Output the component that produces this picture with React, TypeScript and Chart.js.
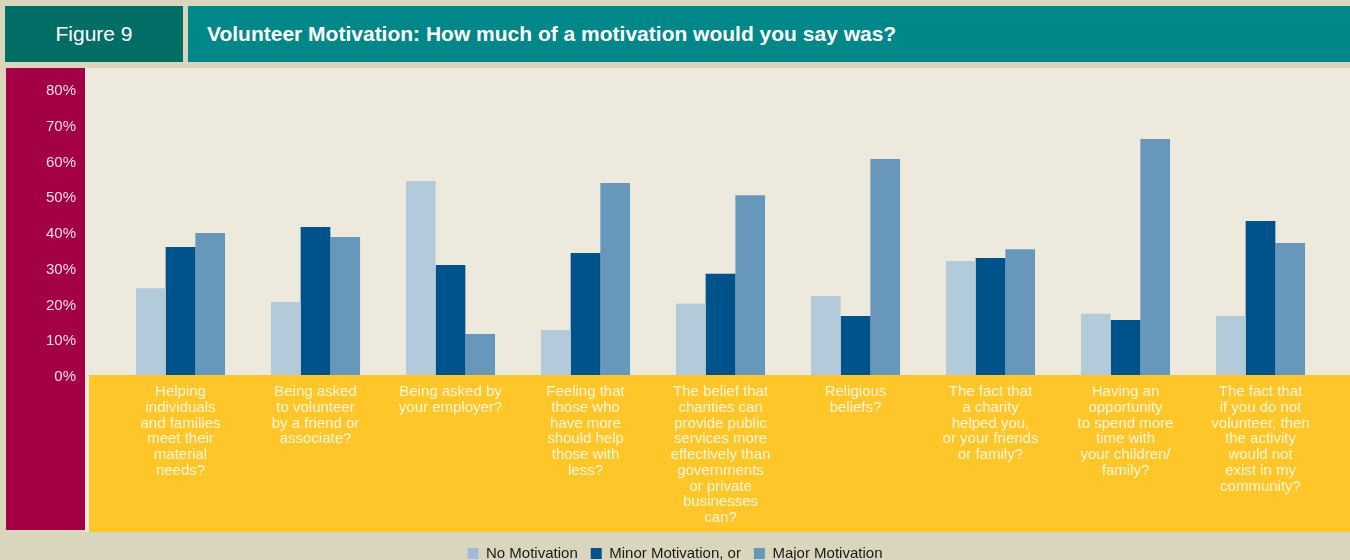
import React, { useEffect, useRef } from "react";
import { Chart, registerables } from "chart.js";

Chart.register(...registerables);

const categories: string[][] = [
  ["Helping", "individuals", "and families", "meet their", "material", "needs?"],
  ["Being asked", "to volunteer", "by a friend or", "associate?"],
  ["Being asked by", "your employer?"],
  ["Feeling that", "those who", "have more", "should help", "those with", "less?"],
  ["The belief that", "charities can", "provide public", "services more", "effectively than", "governments", "or private", "businesses", "can?"],
  ["Religious", "beliefs?"],
  ["The fact that", "a charity", "helped you,", "or your friends", "or family?"],
  ["Having an", "opportunity", "to spend more", "time with", "your children/", "family?"],
  ["The fact that", "if you do not", "volunteer, then", "the activity", "would not", "exist in my", "community?"],
];

const seriesNames = ["No Motivation", "Minor Motivation, or", "Major Motivation"];
const noMotivation = [24.3, 20.4, 54.3, 12.6, 19.9, 22.1, 31.9, 17.1, 16.5];
const minorMotivation = [35.8, 41.4, 30.8, 34.1, 28.3, 16.5, 32.7, 15.4, 43.1];
const majorMotivation = [39.7, 38.6, 11.5, 53.7, 50.3, 60.4, 35.2, 66.0, 36.9];
const yTickValues = [0, 10, 20, 30, 40, 50, 60, 70, 80];

const barColors = ["#B3CADB", "#00528A", "#6798BB"];
const legendColors = ["#A4B9D8", "#00528A", "#6798BB"];

const panelsPlugin = {
  id: "panels",
  beforeDraw(chart: any) {
    const { ctx, chartArea } = chart;
    ctx.save();
    ctx.fillStyle = "#DAD6BD";
    ctx.fillRect(0, 0, 1350, 560);
    ctx.fillStyle = "#EDEADD";
    ctx.fillRect(85, 68, 1265, 464);
    ctx.fillStyle = "#A30046";
    ctx.fillRect(6, 68, 79, 462);
    ctx.fillStyle = "#FFC629";
    ctx.fillRect(89, chartArea.bottom, 1261, 532 - chartArea.bottom);
    ctx.restore();
  },
};

export default function App() {
  const canvasRef = useRef<HTMLCanvasElement | null>(null);

  useEffect(() => {
    if (!canvasRef.current) return;
    const seriesData = [noMotivation, minorMotivation, majorMotivation];
    const chart = new Chart(canvasRef.current, {
      type: "bar",
      data: {
        labels: categories,
        datasets: seriesNames.map((name, i) => ({
          label: name,
          data: seriesData[i],
          backgroundColor: barColors[i],
          borderWidth: 0,
          barPercentage: 1,
          categoryPercentage: 0.66,
        })),
      },
      options: {
        responsive: false,
        animation: false,
        layout: { padding: { top: 89, right: 22, left: 22, bottom: 0 } },
        scales: {
          x: {
            grid: { display: false, drawTicks: false },
            border: { display: false },
            ticks: {
              color: "#FFF6DC",
              font: { family: "Liberation Sans", size: 15, lineHeight: 1.05 },
              padding: 9,
              maxRotation: 0,
              autoSkip: false,
            },
            afterFit: (scale: any) => {
              scale.height = 158;
            },
          },
          y: {
            min: 0,
            max: 80,
            grid: { display: false, drawTicks: false },
            border: { display: false },
            afterBuildTicks: (scale: any) => {
              scale.ticks = yTickValues.map((v) => ({ value: v }));
            },
            ticks: {
              color: "#F3DCE5",
              font: { family: "Liberation Sans", size: 15 },
              padding: 37,
              labelOffset: 2,
              callback: (v: any) => v + "%",
            },
            afterFit: (scale: any) => {
              scale.width = 91;
            },
          },
        },
        plugins: {
          tooltip: { enabled: false },
          legend: {
            position: "bottom",
            maxHeight: 27,
            labels: {
              boxWidth: 11,
              boxHeight: 11,
              padding: 13,
              color: "#1A1A1A",
              font: { family: "Liberation Sans", size: 15 },
              generateLabels: (c: any) => {
                const items = Chart.defaults.plugins.legend.labels.generateLabels(c);
                return items.map((it: any, i: number) => ({
                  ...it,
                  fillStyle: legendColors[i],
                  strokeStyle: legendColors[i],
                  lineWidth: 0,
                }));
              },
            },
          },
        },
      },
      plugins: [panelsPlugin],
    } as any);
    return () => chart.destroy();
  }, []);

  return (
    <div style={{ position: "absolute", left: 0, top: 0, width: 1350, height: 560 }}>
      <canvas ref={canvasRef} width={1350} height={560} style={{ display: "block" }} />
      <div
        style={{
          position: "absolute",
          left: 5,
          top: 6,
          width: 178,
          height: 56,
          background: "#016E66",
          color: "#FFFFFF",
          fontFamily: "Liberation Sans",
          fontSize: 21,
          display: "flex",
          alignItems: "center",
          justifyContent: "center",
        }}
      >
        Figure 9
      </div>
      <div
        style={{
          position: "absolute",
          left: 188,
          top: 6,
          width: 1162,
          height: 56,
          background: "#00878A",
          color: "#FFFFFF",
          fontFamily: "Liberation Sans",
          fontWeight: "bold",
          fontSize: 21,
          display: "flex",
          alignItems: "center",
          paddingLeft: 19,
          boxSizing: "border-box",
        }}
      >
        Volunteer Motivation: How much of a motivation would you say was?
      </div>
    </div>
  );
}
